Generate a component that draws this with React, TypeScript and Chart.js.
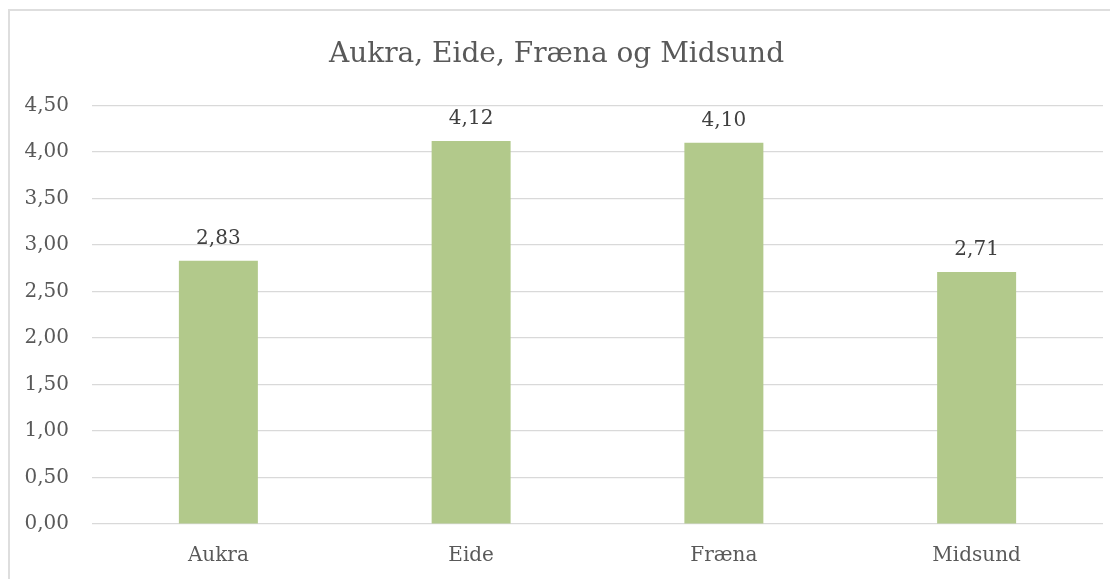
import React, { useEffect, useRef } from "react";
import { Chart, registerables } from "chart.js";

Chart.register(...registerables);

const categories = ["Aukra", "Eide", "Fræna", "Midsund"];
const values = [2.83, 4.12, 4.1, 2.71];
const chartTitle = "Aukra, Eide, Fræna og Midsund";
const yMin = 0;
const yMax = 4.5;
const yStep = 0.5;

const FONT = "'DejaVu Serif', serif";
const fmt = (v: number) => v.toFixed(2).replace(".", ",");

const dataLabelPlugin = {
  id: "dataLabels",
  afterDatasetsDraw(chart: any) {
    const ctx = chart.ctx;
    const meta = chart.getDatasetMeta(0);
    ctx.save();
    ctx.font = `20px ${FONT}`;
    ctx.fillStyle = "#404040";
    ctx.textAlign = "center";
    ctx.textBaseline = "alphabetic";
    meta.data.forEach((bar: any, i: number) => {
      ctx.fillText(fmt(values[i]), bar.x, bar.y - 17);
    });
    ctx.restore();
  },
};

export default function App() {
  const ref = useRef<HTMLCanvasElement | null>(null);
  useEffect(() => {
    if (!ref.current) return;
    const chart = new Chart(ref.current, {
      type: "bar",
      data: {
        labels: categories,
        datasets: [
          {
            data: values,
            backgroundColor: "#b2c98b",
            borderWidth: 0,
            barPercentage: 0.3125,
            categoryPercentage: 1,
          },
        ],
      },
      options: {
        animation: false,
        responsive: false,
        maintainAspectRatio: false,
        layout: { padding: { left: 0, right: 15, top: 0, bottom: 0 } },
        plugins: {
          legend: { display: false },
          tooltip: { enabled: false },
          title: {
            display: true,
            text: chartTitle,
            color: "#595959",
            font: { family: FONT, size: 28, weight: "normal", lineHeight: 1.2 },
            padding: { top: 27, bottom: 34 },
          },
        },
        scales: {
          x: {
            grid: { display: false, drawTicks: false },
            border: { display: false },
            ticks: {
              color: "#595959",
              font: { family: FONT, size: 20 },
              padding: 20,
            },
            afterFit: (s: any) => {
              s.height = 55;
            },
          },
          y: {
            min: yMin,
            max: yMax,
            grid: { color: "#d9d9d9", lineWidth: 1.2, drawTicks: false },
            border: { display: false },
            ticks: {
              stepSize: yStep,
              color: "#595959",
              font: { family: FONT, size: 20 },
              padding: 23,
              callback: (v: any) => fmt(Number(v)),
            },
            afterFit: (s: any) => {
              s.width = 82;
            },
          },
        },
      },
      plugins: [dataLabelPlugin],
    });
    return () => chart.destroy();
  }, []);

  return (
    <div style={{ width: 1110, height: 570, overflow: "hidden", marginTop: 1 }}>
      <div
        style={{
          width: 1130,
          height: 600,
          border: "2px solid #dedede",
          boxSizing: "border-box",
          background: "#fff",
        }}
      >
        <canvas ref={ref} width={1108} height={568} style={{ display: "block" }} />
      </div>
    </div>
  );
}
